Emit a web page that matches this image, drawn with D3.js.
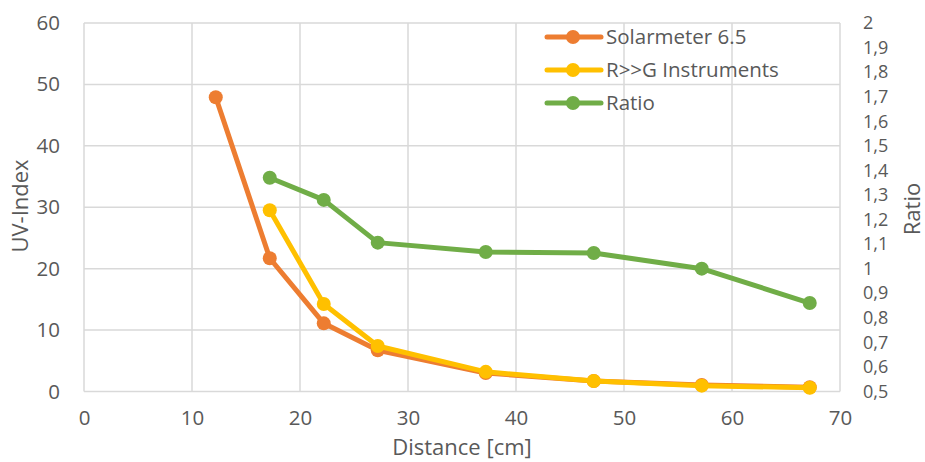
<!DOCTYPE html>
<html><head><meta charset="utf-8">
<script src="https://cdn.jsdelivr.net/npm/d3@7"></script>
<style>body{margin:0;background:#fff;}svg{display:block;font-family:"Open Sans",sans-serif;}</style>
</head><body><svg id="c" width="925" height="462"></svg>
<script>
const distance = [12.2, 17.2, 22.2, 27.2, 37.2, 47.2, 57.2, 67.2];
const solarmeter = [47.9, 21.7, 11.1, 6.7, 3.0, 1.7, 1.05, 0.7];
const rgInstruments = [null, 29.5, 14.25, 7.4, 3.2, 1.7, 0.95, 0.6];
const ratio = [null, 1.37, 1.28, 1.106, 1.068, 1.064, 1.0, 0.86];
const xTicks = [0,10,20,30,40,50,60,70];
const yTicks = [0,10,20,30,40,50,60];
const y2Ticks = [0.5,0.6,0.7,0.8,0.9,1,1.1,1.2,1.3,1.4,1.5,1.6,1.7,1.8,1.9,2];
const seriesNames = ["Solarmeter 6.5", "R>>G Instruments", "Ratio"];
const colors = ["#ED7D31", "#FFC000", "#70AD47"];

const svg = d3.select("#c");
const L=84, R=840, T=23, B=391.5;
const x = d3.scaleLinear().domain([0,70]).range([L,R]);
const y = d3.scaleLinear().domain([0,60]).range([B,T]);
const y2 = d3.scaleLinear().domain([0.5,2]).range([B,T]);
const txt = "#595959", grid = "#d9d9d9", fs = 20.5, tfs = 22, rfs = 18;

const g = svg.append("g");
g.selectAll(".hg").data(yTicks).join("line")
 .attr("x1",L).attr("x2",R).attr("y1",d=>y(d)).attr("y2",d=>y(d))
 .attr("stroke",grid).attr("stroke-width",1.5);
g.selectAll(".vg").data(xTicks).join("line")
 .attr("y1",T).attr("y2",B).attr("x1",d=>x(d)).attr("x2",d=>x(d))
 .attr("stroke",grid).attr("stroke-width",1.5);

// axes
const xa = svg.append("g").attr("transform",`translate(0,${B})`)
 .call(d3.axisBottom(x).tickValues(xTicks).tickSize(0).tickPadding(19));
const ya = svg.append("g").attr("transform",`translate(${L},0)`)
 .call(d3.axisLeft(y).tickValues(yTicks).tickSize(0).tickPadding(24));
const fmt = d=>String(d).replace(".",",");
const y2a = svg.append("g").attr("transform",`translate(${R},0)`)
 .call(d3.axisRight(y2).tickValues(y2Ticks).tickFormat(fmt).tickSize(0).tickPadding(23));
[xa,ya].forEach(a=>{a.select(".domain").remove();
 a.selectAll("text").attr("fill",txt).style("font-size",fs+"px").style("font-family","Open Sans");});
y2a.select(".domain").remove();
y2a.selectAll("text").attr("fill",txt).style("font-size",rfs+"px").style("font-family","Open Sans");

function drawSeries(vals, scale, color){
 const pts = distance.map((d,i)=>[d, vals[i]]).filter(p=>p[1]!=null);
 svg.append("path").datum(pts)
  .attr("d", d3.line().x(p=>x(p[0])).y(p=>scale(p[1])))
  .attr("fill","none").attr("stroke",color).attr("stroke-width",5).attr("stroke-linejoin","round");
 svg.append("g").selectAll("circle").data(pts).join("circle")
  .attr("cx",p=>x(p[0])).attr("cy",p=>scale(p[1])).attr("r",7).attr("fill",color);
}
drawSeries(solarmeter, y, colors[0]);
drawSeries(rgInstruments, y, colors[1]);
drawSeries(ratio, y2, colors[2]);

// titles
svg.append("text").attr("x",462).attr("y",455).attr("text-anchor","middle")
 .attr("fill",txt).style("font-size",tfs+"px").text("Distance [cm]");
svg.append("text").attr("transform","translate(28,206) rotate(-90)").attr("text-anchor","middle")
 .attr("fill",txt).style("font-size",tfs+"px").text("UV-Index");
svg.append("text").attr("transform","translate(920,209) rotate(-90)").attr("text-anchor","middle")
 .attr("fill",txt).style("font-size",tfs+"px").text("Ratio");

// legend
const lg = svg.append("g");
seriesNames.forEach((n,i)=>{
 const yy = 37 + i*33;
 lg.append("line").attr("x1",547).attr("x2",601).attr("y1",yy).attr("y2",yy)
  .attr("stroke",colors[i]).attr("stroke-width",5).attr("stroke-linecap","round");
 lg.append("circle").attr("cx",573).attr("cy",yy).attr("r",7).attr("fill",colors[i]);
 lg.append("text").attr("x",606).attr("y",yy).attr("dy","0.35em").attr("fill",txt)
  .style("font-size",fs+"px").text(n);
});
</script></body></html>
